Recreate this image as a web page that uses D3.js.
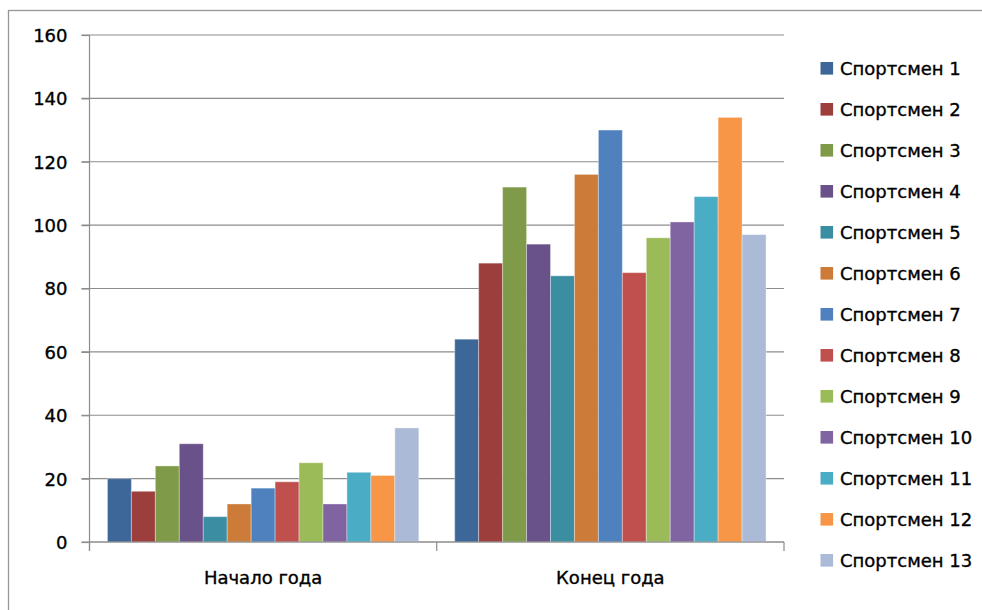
<!DOCTYPE html>
<html>
<head>
<meta charset="utf-8">
<script src="https://cdn.jsdelivr.net/npm/d3@7"></script>
<style>
  html, body { margin: 0; padding: 0; background: #fff; }
  svg { display: block; }
  text { font-family: "DejaVu Sans", sans-serif; fill: #000; }
</style>
</head>
<body>
<svg id="chart" width="982" height="610"></svg>
<script>
const categories = ["Начало года", "Конец года"];
const seriesNames = ["Спортсмен 1", "Спортсмен 2", "Спортсмен 3", "Спортсмен 4", "Спортсмен 5", "Спортсмен 6", "Спортсмен 7", "Спортсмен 8", "Спортсмен 9", "Спортсмен 10", "Спортсмен 11", "Спортсмен 12", "Спортсмен 13"];
const startValues = [20, 16, 24, 31, 8, 12, 17, 19, 25, 12, 22, 21, 36];
const endValues = [64, 88, 112, 94, 84, 116, 130, 85, 96, 101, 109, 134, 97];
const seriesColors = ["#3E6799", "#9C3E3C", "#7F9A48", "#69518A", "#3B8DA2", "#CC7B38", "#4E81BD", "#C0504E", "#9BBB59", "#8064A2", "#4BACC6", "#F79646", "#AABAD7"];
const yTicks = [0, 20, 40, 60, 80, 100, 120, 140, 160];

const valuesByCategory = [startValues, endValues];

const svg = d3.select("#chart");

// outer chart border
svg.append("rect")
  .attr("x", 8.5).attr("y", 10.5)
  .attr("width", 990).attr("height", 620)
  .attr("fill", "none").attr("stroke", "#969696").attr("stroke-width", 1.3);

const plot = { left: 89.5, right: 784, top: 35, bottom: 542 };

const x0 = d3.scaleBand().domain(categories).range([plot.left, plot.right]).padding(0);
const x1 = d3.scaleBand().domain(seriesNames).range([0, x0.bandwidth()]).paddingInner(0).paddingOuter(0.75);
const y = d3.scaleLinear().domain([0, 160]).range([plot.bottom, plot.top]);

// gridlines
svg.append("g").selectAll("line").data(yTicks).join("line")
  .attr("x1", plot.left - 8).attr("x2", plot.right)
  .attr("y1", d => y(d)).attr("y2", d => y(d))
  .attr("stroke", "#8c8c8c").attr("stroke-width", 1.2);

// bars
const groups = svg.append("g").selectAll("g").data(categories).join("g")
  .attr("transform", d => `translate(${x0(d)},0)`);
groups.selectAll("rect")
  .data((c, ci) => seriesNames.map((s, si) => ({ s, si, v: valuesByCategory[ci][si] })))
  .join("rect")
  .attr("x", d => x1(d.s))
  .attr("width", x1.bandwidth())
  .attr("y", d => y(d.v))
  .attr("height", d => y(0) - y(d.v))
  .attr("fill", d => seriesColors[d.si])
  .attr("stroke", "rgba(255,255,255,0.35)")
  .attr("stroke-width", 1);

// y axis
const yAxis = d3.axisLeft(y).tickValues(yTicks).tickSize(8).tickPadding(14).tickSizeOuter(0);
const yg = svg.append("g").attr("transform", `translate(${plot.left},0)`).call(yAxis);
yg.select(".domain").remove();
yg.selectAll(".tick line").attr("stroke", "#8c8c8c").attr("stroke-width", 1.2);
yg.selectAll(".tick text")
  .attr("font-size", 18).attr("font-family", "DejaVu Sans, sans-serif")
  .attr("fill", "#000").attr("stroke", "#000").attr("stroke-width", 0.35)
  .attr("dy", "0.36em");
svg.append("line")
  .attr("x1", plot.left).attr("x2", plot.left)
  .attr("y1", plot.top).attr("y2", plot.bottom + 9)
  .attr("stroke", "#8c8c8c").attr("stroke-width", 1.2);

// x axis
svg.append("line")
  .attr("x1", plot.left).attr("x2", plot.right)
  .attr("y1", plot.bottom).attr("y2", plot.bottom)
  .attr("stroke", "#8c8c8c").attr("stroke-width", 1.2);
const boundaries = categories.map(c => x0(c)).concat([x0(categories[categories.length - 1]) + x0.bandwidth()]);
svg.append("g").selectAll("line").data(boundaries).join("line")
  .attr("x1", d => d).attr("x2", d => d)
  .attr("y1", plot.bottom).attr("y2", plot.bottom + 9)
  .attr("stroke", "#8c8c8c").attr("stroke-width", 1.2);
svg.append("g").selectAll("text").data(categories).join("text")
  .attr("x", d => x0(d) + x0.bandwidth() / 2)
  .attr("y", 584)
  .attr("text-anchor", "middle")
  .attr("font-size", 18)
  .attr("stroke", "#000").attr("stroke-width", 0.35)
  .text(d => d);

// legend
const legend = svg.append("g").selectAll("g").data(seriesNames).join("g")
  .attr("transform", (d, i) => `translate(820.5,${68.3 + i * 41})`);
legend.append("rect")
  .attr("x", 0).attr("y", -6.3).attr("width", 12.6).attr("height", 12.6)
  .attr("fill", (d, i) => seriesColors[i]);
legend.append("text")
  .attr("x", 19.5).attr("y", 0).attr("dy", "0.36em")
  .attr("font-size", 18)
  .attr("stroke", "#000").attr("stroke-width", 0.35)
  .text(d => d);
</script>
</body>
</html>
